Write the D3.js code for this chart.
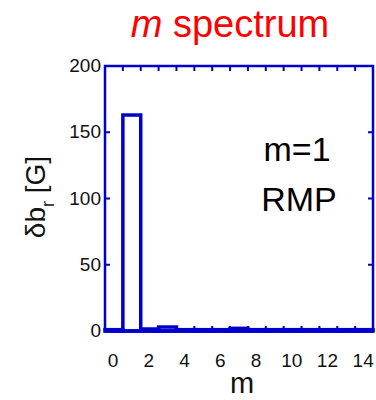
<!DOCTYPE html>
<html>
<head>
<meta charset="utf-8">
<script src="https://cdn.jsdelivr.net/npm/d3@7"></script>
<style>
  body { margin: 0; background: #fff; }
  text { font-family: "Liberation Sans", Arial, sans-serif; }
</style>
</head>
<body>
<script>
var width = 376;
var height = 400;
var margin = {top: 66, left: 105, right: 3, bottom: 69};
var blue = "#0000cc";

// m modes and dB_r amplitude [G]
var modes = [0, 1, 2, 3, 4, 5, 6, 7, 8, 9, 10, 11, 12, 13, 14];
var amps = [1, 163, 1.5, 3, 1, 1, 1, 2, 1, 1, 1, 1, 1, 1, 1];
var xTickLabels = [0, 2, 4, 6, 8, 10, 12, 14];
var yTicks = [0, 50, 100, 150, 200];

var data = modes.map(function(m, i) { return {m: m, v: amps[i]}; });

var svg = d3.select("body")
  .append("svg")
  .attr("width", width)
  .attr("height", height);

var xScale = d3.scaleLinear()
  .domain([0, 15])
  .range([margin.left, width - margin.right]);

var yScale = d3.scaleLinear()
  .domain([0, 200])
  .range([height - margin.bottom, margin.top]);

// title
var title = svg.append("text")
  .attr("x", 230)
  .attr("y", 37)
  .attr("text-anchor", "middle")
  .attr("fill", "#ff0000")
  .style("font-size", "38px");
title.append("tspan").style("font-style", "italic").text("m");
title.append("tspan").text(" spectrum");

// bars (outline only)
svg.selectAll("rect.bar")
  .data(data)
  .enter()
  .append("rect")
    .attr("class", "bar")
    .attr("x", function(d) { return xScale(d.m); })
    .attr("y", function(d) { return yScale(d.v); })
    .attr("width", xScale(1) - xScale(0))
    .attr("height", function(d) { return yScale(0) - yScale(d.v); })
    .attr("fill", "none")
    .attr("stroke", blue)
    .attr("stroke-width", 3.5);

// ticks (inward, on all four sides)
var xt = d3.range(1, 15);
var tickLen = 5;
var x0 = xScale(0), x1 = xScale(15), y0 = yScale(0), y1 = yScale(200);

svg.selectAll("line.xtb").data(xt).enter().append("line")
  .attr("x1", function(d) { return xScale(d); })
  .attr("x2", function(d) { return xScale(d); })
  .attr("y1", y0).attr("y2", y0 - tickLen)
  .attr("stroke", blue).attr("stroke-width", 2);
svg.selectAll("line.xtt").data(xt).enter().append("line")
  .attr("x1", function(d) { return xScale(d); })
  .attr("x2", function(d) { return xScale(d); })
  .attr("y1", y1).attr("y2", y1 + tickLen)
  .attr("stroke", blue).attr("stroke-width", 2);

var yt = [50, 100, 150];
svg.selectAll("line.ytl").data(yt).enter().append("line")
  .attr("x1", x0).attr("x2", x0 + tickLen)
  .attr("y1", function(d) { return yScale(d); })
  .attr("y2", function(d) { return yScale(d); })
  .attr("stroke", blue).attr("stroke-width", 2);
svg.selectAll("line.ytr").data(yt).enter().append("line")
  .attr("x1", x1).attr("x2", x1 - tickLen)
  .attr("y1", function(d) { return yScale(d); })
  .attr("y2", function(d) { return yScale(d); })
  .attr("stroke", blue).attr("stroke-width", 2);

// frame
svg.append("rect")
  .attr("x", x0).attr("y", y1)
  .attr("width", x1 - x0).attr("height", y0 - y1)
  .attr("fill", "none")
  .attr("stroke", blue)
  .attr("stroke-width", 2.5);

// thick baseline
svg.append("line")
  .attr("x1", x0).attr("x2", x1)
  .attr("y1", y0).attr("y2", y0)
  .attr("stroke", blue).attr("stroke-width", 3.5);

// tick labels
svg.selectAll("text.ylab").data(yTicks).enter().append("text")
  .attr("x", x0 - 4)
  .attr("y", function(d) { return yScale(d) + 6; })
  .attr("text-anchor", "end")
  .attr("fill", "#111")
  .style("font-size", "19px")
  .text(function(d) { return d; });

svg.selectAll("text.xlab").data(xTickLabels).enter().append("text")
  .attr("x", function(d) { return xScale(d + 0.45); })
  .attr("y", 367)
  .attr("text-anchor", "middle")
  .attr("fill", "#111")
  .style("font-size", "19px")
  .text(function(d) { return d; });

// axis titles
svg.append("text")
  .attr("x", 242)
  .attr("y", 393)
  .attr("text-anchor", "middle")
  .attr("fill", "#111")
  .style("font-size", "29px")
  .text("m");

var ylab = svg.append("text")
  .attr("transform", "translate(45,197) rotate(-90)")
  .attr("text-anchor", "middle")
  .attr("fill", "#111")
  .style("font-size", "28px");
ylab.append("tspan").text("\u03b4b");
ylab.append("tspan").attr("dy", 9).style("font-size", "18px").text("r");
ylab.append("tspan").attr("dy", -9).text(" [G]");

// annotation
svg.append("text")
  .attr("x", 297).attr("y", 161)
  .attr("text-anchor", "middle")
  .attr("fill", "#000")
  .style("font-size", "34px")
  .text("m=1");
svg.append("text")
  .attr("x", 299).attr("y", 211)
  .attr("text-anchor", "middle")
  .attr("fill", "#000")
  .style("font-size", "34px")
  .text("RMP");
</script>
</body>
</html>
